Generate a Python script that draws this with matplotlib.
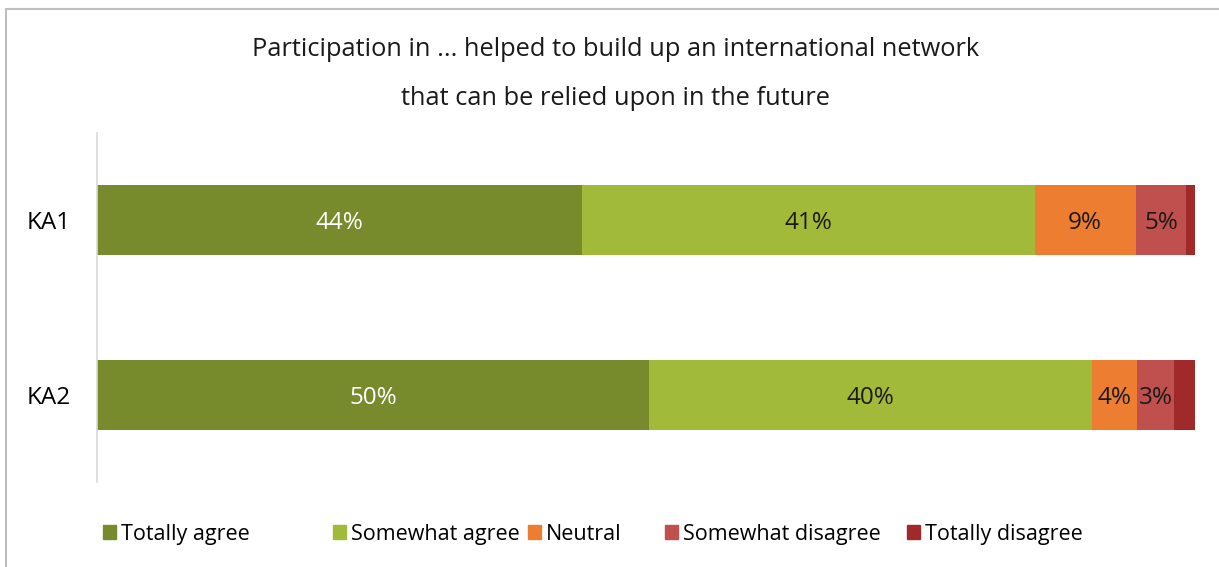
import matplotlib.pyplot as plt
from matplotlib.patches import Rectangle

# Survey answers per programme, in percent
groups = ['KA1', 'KA2']
answers = ['Totally agree', 'Somewhat agree', 'Neutral', 'Somewhat disagree', 'Totally disagree']
totally_agree = [44.2, 50.3]
somewhat_agree = [41.2, 40.3]
neutral = [9.2, 4.1]
somewhat_disagree = [4.6, 3.4]
totally_disagree = [0.8, 1.9]

series = [totally_agree, somewhat_agree, neutral, somewhat_disagree, totally_disagree]
colors = ['#778A2C', '#A2BA3A', '#ED7D31', '#C0504D', '#A0292A']
label_colors = ['white', '#1a1a1a', '#1a1a1a', '#1a1a1a', None]

plt.rcParams['font.family'] = ['Open Sans', 'DejaVu Sans']

fig = plt.figure(figsize=(12.19, 5.67), dpi=100)
ax = fig.add_axes([0.0796, 0.150, 0.9007, 0.6154])

left = [0.0] * len(groups)
for vals, col, lc in zip(series, colors, label_colors):
    bars = ax.barh(range(len(groups)), vals, left=left, height=0.4, color=col)
    if lc is not None:
        texts = ax.bar_label(bars, labels=[f'{v:.0f}%' for v in vals], label_type='center',
                             color=lc, fontsize=17.5)
        for t in texts:
            t.set_va('center_baseline')
    left = [a + b for a, b in zip(left, vals)]

ax.set_xlim(0, 100)
ax.set_ylim(1.5, -0.5)
ax.set_yticks(range(len(groups)))
ax.set_yticklabels(groups, fontsize=17.5)
ax.tick_params(axis='y', length=0, pad=19)
ax.set_xticks([])
for side in ['top', 'right', 'bottom']:
    ax.spines[side].set_visible(False)
ax.spines['left'].set_color('#D9D9D9')
ax.spines['left'].set_linewidth(1.2)

fig.text(0.505, 0.912, 'Participation in ... helped to build up an international network',
         ha='center', va='center', fontsize=18.3, color='#1a1a1a')
fig.text(0.505, 0.827, 'that can be relied upon in the future',
         ha='center', va='center', fontsize=18.3, color='#1a1a1a')

# legend entries spaced the way the spreadsheet lays them out
legend_x = [103, 333, 528, 665, 907]
for lab, col, x in zip(answers, colors, legend_x):
    fig.legend([Rectangle((0, 0), 1, 1, color=col)], [lab], loc='center left',
               bbox_to_anchor=(x / 1219, 0.058), frameon=False, fontsize=15.5,
               handlelength=0.6, handleheight=0.6, handletextpad=0.25,
               borderpad=0, borderaxespad=0)

# chart border
fig.patches.append(Rectangle((6 / 1219, -0.1), 1.2, 1.1 - 9 / 567, transform=fig.transFigure,
                             fill=False, edgecolor='#BFBFBF', linewidth=1.5))

fig.savefig('out.png', dpi=100)
